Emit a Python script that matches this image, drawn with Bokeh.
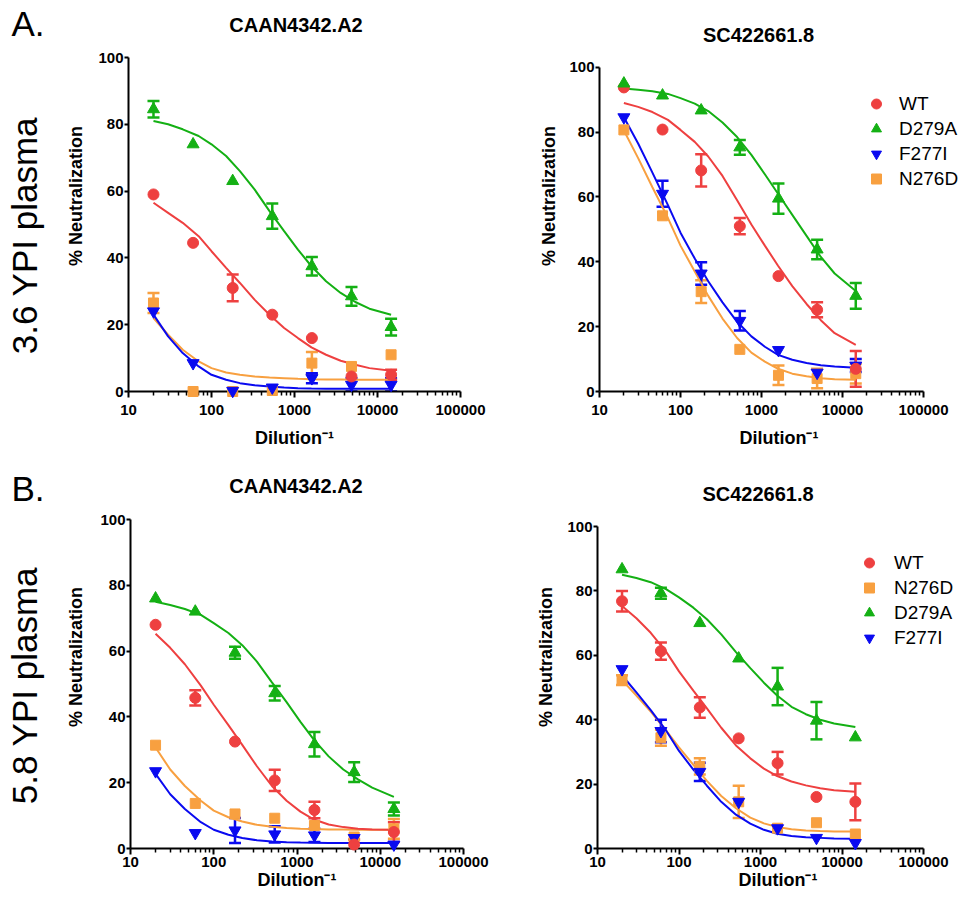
import math
from bokeh.plotting import figure
from bokeh.models import (Range1d, FixedTicker, NumeralTickFormatter, Label, Whisker, TeeHead,
                          ColumnDataSource, Legend, LegendItem)
from bokeh.layouts import column, row
from bokeh.embed import file_html
from bokeh.resources import INLINE

# ---------------- data ----------------
dilutions = [20, 60, 180, 540, 1620, 4860, 14580]
curve_x = [20, 30, 45, 70, 100, 150, 220, 330, 500, 750, 1100, 1600, 2400, 3600, 5400, 8000, 14580]
x_ticks = [10, 100, 1000, 10000, 100000]
y_ticks = [0, 20, 40, 60, 80, 100]

# A: 3.6 YPI plasma, CAAN4342.A2
a1_wt = [59, 44.5, 31, 23, 16, 4.5, 5]
a1_wt_err = [0, 0, 4, 0, 0, 0, 1.5]
a1_wt_fit = [56.5, 53.5, 50.5, 46.5, 42, 37, 32.5, 27.5, 23, 19, 16, 13.2, 11, 9.2, 8, 7, 6.2]
a1_d279a = [84.5, 74, 63, 52.5, 37.5, 28.5, 19.3]
a1_d279a_err = [2.5, 0, 0, 3.8, 2.8, 2.8, 2.5]
a1_d279a_fit = [81, 80, 78.5, 76.5, 74, 70.5, 66, 60.5, 54, 48, 42.5, 37.5, 33, 29.5, 26.8, 24.8, 23]
a1_f277i = [24, 8.5, 0.2, 1.2, 4, 2, 2]
a1_f277i_err = [0, 0, 0, 0, 1.5, 2, 2]
a1_f277i_fit = [23, 16.5, 11.5, 7.5, 5, 3.5, 2.5, 1.9, 1.5, 1.2, 1.0, 0.9, 0.85, 0.8, 0.8, 0.8, 0.8]
a1_n276d = [26.5, 0, 0, 0.3, 8.5, 7.5, 11]
a1_n276d_err = [3, 0, 0, 0, 3.3, 0, 0]
a1_n276d_fit = [22, 17, 12.5, 9, 7, 5.7, 5, 4.5, 4.2, 4, 3.8, 3.7, 3.6, 3.6, 3.5, 3.5, 3.5]

# A: 3.6 YPI plasma, SC422661.8
a2_wt = [93.8, 80.8, 68.2, 51, 35.6, 25.2, 7]
a2_wt_err = [0, 0, 5, 2.5, 0, 2.3, 5.5]
a2_wt_fit = [89, 87.8, 86.2, 83.8, 80.7, 77, 72.5, 66.5, 59, 51.5, 45, 38.8, 32.5, 27, 22, 18, 14.4]
a2_d279a = [95, 91.3, 86.7, 75.3, 59.5, 43.8, 29.5]
a2_d279a_err = [0, 0, 0, 2.3, 4.7, 3, 4]
a2_d279a_fit = [93.5, 93.1, 92.6, 91.8, 90.5, 88.8, 86.5, 83, 78.5, 73, 67, 61, 54.5, 48, 41.5, 36.4, 31]
a2_f277i = [84.6, 61, 36.4, 21.8, 12.8, 5.8, 8]
a2_f277i_err = [0, 4, 3.5, 3, 0, 0, 2]
a2_f277i_fit = [84.6, 76.5, 67.5, 57.5, 49, 41, 34, 27.5, 21.5, 17, 13.8, 11.3, 9.8, 8.8, 8.1, 7.7, 7.3]
a2_n276d = [80.7, 54.2, 30.8, 13, 5, 4, 5.5]
a2_n276d_err = [0, 0, 3.5, 0, 3, 3, 3]
a2_n276d_fit = [80.5, 72, 63, 53.5, 45, 37, 29.5, 22.5, 16.5, 12, 9.2, 7, 5.5, 4.7, 4.1, 3.8, 3.6]

# B: 5.8 YPI plasma, CAAN4342.A2
b1_wt = [68, 45.8, 32.5, 20.7, 11.7, 1.2, 5]
b1_wt_err = [0, 2.3, 0, 3.2, 2.5, 1.5, 3]
b1_wt_fit = [65.3, 61, 56, 49.5, 43.7, 37.5, 31.5, 25, 19, 14.5, 11.2, 8.8, 7.3, 6.5, 6, 5.8, 5.7]
b1_d279a = [76, 72, 59.5, 47.2, 31.7, 23.2, 12]
b1_d279a_err = [0, 0, 1.8, 2.2, 3.7, 3, 2]
b1_d279a_fit = [75, 74, 72.8, 71, 68.5, 65.5, 61.8, 56.8, 50.5, 44.5, 38.5, 33, 28, 24, 21, 18.5, 15.7]
b1_f277i = [23.5, 4.7, 5.5, 4.3, 4, 3.2, 1.2]
b1_f277i_err = [0, 0, 3.8, 2.5, 2, 0, 0]
b1_f277i_fit = [22.7, 16.5, 12, 8, 5.7, 4.2, 3.2, 2.5, 2.1, 1.9, 1.8, 1.75, 1.7, 1.7, 1.7, 1.7, 1.7]
b1_n276d = [31.4, 13.7, 10.5, 9.2, 7, 3.5, 6]
b1_n276d_err = [0, 0, 0, 0, 0, 0, 3]
b1_n276d_fit = [30.7, 24, 19, 14.5, 11.5, 9.5, 8.2, 7.2, 6.6, 6.2, 6, 5.9, 5.8, 5.8, 5.7, 5.7, 5.7]

# B: 5.8 YPI plasma, SC422661.8
b2_wt = [76.8, 61.3, 43.8, 34.2, 26.5, 16, 14.5]
b2_wt_err = [3.2, 2.7, 3.2, 0, 3.5, 0, 5.7]
b2_wt_fit = [75.3, 71.5, 67, 61, 55, 49, 43.5, 37.5, 32, 28, 24.8, 22.5, 20.8, 19.6, 18.7, 18.1, 17.6]
b2_d279a = [86.7, 79.3, 70, 59, 50.3, 39.7, 34.5]
b2_d279a_err = [0, 1.7, 0, 0, 5.8, 5.8, 0]
b2_d279a_fit = [85, 84, 82.7, 80.5, 78, 74.8, 71.2, 66.5, 61, 56, 51.5, 47.5, 44, 41.7, 40, 38.8, 37.7]
b2_f277i = [55.7, 36.5, 23.8, 14.5, 6.3, 3.3, 1.7]
b2_f277i_err = [0, 3.5, 2.8, 0, 0, 0, 0]
b2_f277i_fit = [53.8, 48.5, 43, 36.5, 30.3, 24.5, 19.5, 14.5, 10.5, 7.7, 5.8, 4.6, 3.9, 3.5, 3.3, 3.1, 3.0]
b2_n276d = [52.3, 34.4, 25.5, 14.5, 6.3, 8, 4.5]
b2_n276d_err = [1.5, 2.5, 2.5, 5, 0, 0, 0]
b2_n276d_fit = [52.3, 47.5, 42.5, 36.5, 31.4, 26, 21, 16.3, 12.5, 9.6, 7.8, 6.7, 6, 5.6, 5.4, 5.3, 5.3]

# ---------------- style ----------------
FONT = "Liberation Sans"
STYLE = {
    "WT": dict(color="#EE4040", marker="circle", size=11),
    "D279A": dict(color="#14B014", marker="triangle", size=12),
    "F277I": dict(color="#0A0AF0", marker="inverted_triangle", size=12),
    "N276D": dict(color="#F8A040", marker="square", size=10),
}
minor = [k * 10 ** d for d in range(1, 5) for k in range(2, 10)]


def make_panel(width, height, borders, x_end, y_end, title, title_dx, title_y, series, draw_order,
               ylab_standoff, xlab_standoff, tick_standoff,
               legend_order=None, legend_loc=None, legend_standoff=11):
    L, R, T, B = borders
    p = figure(width=width, height=height, x_axis_type="log",
               x_range=Range1d(10, x_end), y_range=Range1d(0, y_end),
               min_border_left=L, min_border_right=R, min_border_top=T, min_border_bottom=B,
               output_backend="svg", toolbar_location=None, title=None)
    p.xgrid.visible = False
    p.ygrid.visible = False
    p.outline_line_color = None
    p.background_fill_color = "white"
    p.border_fill_color = "white"

    xa = p.xaxis[0]
    xa.ticker = FixedTicker(ticks=x_ticks, minor_ticks=minor)
    xa.formatter = NumeralTickFormatter(format="0")
    xa.bounds = (10, 100000)
    ya = p.yaxis[0]
    ya.ticker = FixedTicker(ticks=y_ticks)
    ya.bounds = (0, 100)
    for ax in (xa, ya):
        ax.axis_line_width = 2
        ax.axis_line_color = "black"
        ax.major_tick_line_width = 2
        ax.minor_tick_line_width = 1.5
        ax.major_tick_in = 0
        ax.minor_tick_in = 0
        ax.major_label_text_font = FONT
        ax.major_label_text_font_style = "bold"
        ax.major_label_text_font_size = "15px"
        ax.major_label_text_color = "black"
        ax.axis_label_text_font = FONT
        ax.axis_label_text_font_style = "bold"
        ax.axis_label_text_font_size = "18px"
        ax.axis_label_text_color = "black"
    xa.major_tick_out = 6
    xa.minor_tick_out = 4
    xa.major_label_standoff = tick_standoff
    xa.axis_label = "Dilution\u207b\u00b9"
    xa.axis_label_standoff = xlab_standoff
    ya.major_tick_out = 4
    ya.major_label_standoff = 1
    ya.axis_label = "% Neutralization"
    ya.axis_label_standoff = ylab_standoff

    renderers = {}
    for name in draw_order:
        vals, errs, fit = series[name]
        st = STYLE[name]
        p.line(curve_x, fit, line_width=2, color=st["color"])
    for name in draw_order:
        vals, errs, fit = series[name]
        st = STYLE[name]
        ex = [d for d, e in zip(dilutions, errs) if e > 0]
        up = [v + e for v, e in zip(vals, errs) if e > 0]
        lo = [v - e for v, e in zip(vals, errs) if e > 0]
        if ex:
            src = ColumnDataSource(dict(x=ex, upper=up, lower=lo))
            w = Whisker(base="x", upper="upper", lower="lower", source=src, dimension="height",
                        line_color=st["color"], line_width=2.5,
                        upper_head=TeeHead(size=12, line_color=st["color"], line_width=2.5),
                        lower_head=TeeHead(size=12, line_color=st["color"], line_width=2.5))
            p.add_layout(w)
    for name in draw_order:
        vals, errs, fit = series[name]
        st = STYLE[name]
        r = p.scatter(dilutions, vals, marker=st["marker"], size=st["size"],
                      fill_color=st["color"], line_color=st["color"], level="overlay")
        renderers[name] = r

    # panel title, drawn inside the (upward-extended) frame
    p.add_layout(Label(x=1000, y=title_y, x_offset=title_dx, text=title,
                       text_align="center", text_baseline="middle", text_font=FONT,
                       text_font_style="bold", text_font_size="20px", text_color="black"))

    if legend_order:
        items = [LegendItem(label=n, renderers=[renderers[n]]) for n in legend_order]
        lg = Legend(items=items, location=legend_loc, orientation="vertical",
                    border_line_color=None, background_fill_alpha=0, padding=0, margin=0,
                    spacing=0, glyph_width=26, glyph_height=25, label_height=25,
                    label_standoff=legend_standoff, label_text_font=FONT,
                    label_text_font_size="19px", label_text_color="black")
        p.add_layout(lg)
    return p


s_a1 = {"WT": (a1_wt, a1_wt_err, a1_wt_fit), "D279A": (a1_d279a, a1_d279a_err, a1_d279a_fit),
        "F277I": (a1_f277i, a1_f277i_err, a1_f277i_fit), "N276D": (a1_n276d, a1_n276d_err, a1_n276d_fit)}
s_a2 = {"WT": (a2_wt, a2_wt_err, a2_wt_fit), "D279A": (a2_d279a, a2_d279a_err, a2_d279a_fit),
        "F277I": (a2_f277i, a2_f277i_err, a2_f277i_fit), "N276D": (a2_n276d, a2_n276d_err, a2_n276d_fit)}
s_b1 = {"WT": (b1_wt, b1_wt_err, b1_wt_fit), "D279A": (b1_d279a, b1_d279a_err, b1_d279a_fit),
        "F277I": (b1_f277i, b1_f277i_err, b1_f277i_fit), "N276D": (b1_n276d, b1_n276d_err, b1_n276d_fit)}
s_b2 = {"WT": (b2_wt, b2_wt_err, b2_wt_fit), "D279A": (b2_d279a, b2_d279a_err, b2_d279a_fit),
        "F277I": (b2_f277i, b2_f277i_err, b2_f277i_fit), "N276D": (b2_n276d, b2_n276d_err, b2_n276d_fit)}

order = ["N276D", "F277I", "WT", "D279A"]

# frames are extended right (legend room) and up (title room); the axes stop at 1e5 and 100
x_end_top = 10 ** (5 + 35 / 81.0)
x_end_bot = 10 ** (5 + 35 / 81.5)

p1 = make_panel(462, 465, (70, 60, 0, 74), 100000, 100 * 391 / 334.0,
                "CAAN4342.A2", 1.5, 109.7, s_a1, order, 9, 10, 7)
p2 = make_panel(438, 465, (79, 0, 0, 73), x_end_top, 100 * 392 / 325.0,
                "SC422661.8", -3, 110.0, s_a2, order, 7, 10, 7,
                legend_order=["WT", "D279A", "F277I", "N276D"], legend_loc=(264, 200),
                legend_standoff=10)
p3 = make_panel(462, 429, (72, 57, 0, 46), 100000, 100 + 54 / 3.29,
                "CAAN4342.A2", -1, 110.2, s_b1, order, 11, 0, 2)
p4 = make_panel(438, 429, (77, 0, 0, 46), x_end_bot, 100 + 61 / 3.22,
                "SC422661.8", -2.5, 110.1, s_b2, order, 8, 0, 2,
                legend_order=["WT", "N276D", "D279A", "F277I"], legend_loc=(259, 198),
                legend_standoff=12)

# left strip with the panel letters and plasma labels (pixel-like coordinates, y downwards)
side = figure(width=58, height=894, x_range=Range1d(0, 58), y_range=Range1d(894, 0),
              x_axis_location=None, y_axis_location=None, min_border=0,
              output_backend="svg", toolbar_location=None, title=None)
side.outline_line_color = None
side.grid.visible = False
for txt, x, y, ang, align in [("A.", 11, 22.5, 0, "left"),
                              ("3.6 YPI plasma", 24, 235, math.pi / 2, "center"),
                              ("B.", 11, 487.5, 0, "left"),
                              ("5.8 YPI plasma", 24, 685, math.pi / 2, "center")]:
    side.add_layout(Label(x=x, y=y, text=txt, angle=ang, text_align=align, text_baseline="middle",
                          text_font=FONT, text_font_size="35px", text_color="black"))

layout = row(side, column(row(p1, p2), row(p3, p4)))
open("out.html", "w").write(file_html(layout, INLINE))
